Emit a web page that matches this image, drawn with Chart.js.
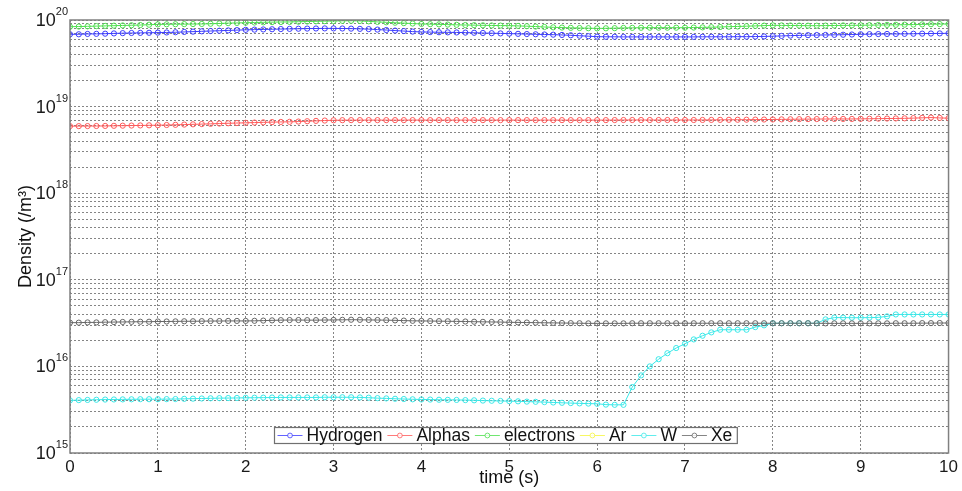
<!DOCTYPE html>
<html><head><meta charset="utf-8">
<script src="https://cdn.jsdelivr.net/npm/chart.js@4.4.1/dist/chart.umd.min.js"></script>
<style>html,body{margin:0;padding:0;background:#fff;}#wrap{width:962px;height:491px;}</style>
</head><body><div id="wrap"><canvas id="c" width="962" height="491"></canvas></div>
<script>
const times = [0,0.1,0.2,0.3,0.4,0.5,0.6,0.7,0.8,0.9,1,1.1,1.2,1.3,1.4,1.5,1.6,1.7,1.8,1.9,2,2.1,2.2,2.3,2.4,2.5,2.6,2.7,2.8,2.9,3,3.1,3.2,3.3,3.4,3.5,3.6,3.7,3.8,3.9,4,4.1,4.2,4.3,4.4,4.5,4.6,4.7,4.8,4.9,5,5.1,5.2,5.3,5.4,5.5,5.6,5.7,5.8,5.9,6,6.1,6.2,6.3,6.4,6.5,6.6,6.7,6.8,6.9,7,7.1,7.2,7.3,7.4,7.5,7.6,7.7,7.8,7.9,8,8.1,8.2,8.3,8.4,8.5,8.6,8.7,8.8,8.9,9,9.1,9.2,9.3,9.4,9.5,9.6,9.7,9.8,9.9,10];
const seriesNames = ['Hydrogen','Alphas','electrons','Ar','W','Xe'];
const hydrogen = [6.84e19,6.84e19,6.90e19,6.92e19,6.95e19,7.00e19,7.05e19,7.08e19,7.10e19,7.12e19,
 7.15e19,7.18e19,7.22e19,7.28e19,7.34e19,7.40e19,7.46e19,7.52e19,7.58e19,7.64e19,
 7.70e19,7.74e19,7.78e19,7.82e19,7.86e19,7.90e19,7.93e19,7.96e19,7.98e19,8.00e19,
 8.00e19,7.98e19,7.95e19,7.90e19,7.85e19,7.75e19,7.66e19,7.55e19,7.45e19,7.35e19,
 7.28e19,7.25e19,7.22e19,7.20e19,7.18e19,7.15e19,7.12e19,7.08e19,7.04e19,7.00e19,
 6.96e19,6.92e19,6.88e19,6.84e19,6.80e19,6.77e19,6.72e19,6.66e19,6.58e19,6.50e19,
 6.42e19,6.40e19,6.40e19,6.38e19,6.38e19,6.38e19,6.38e19,6.38e19,6.38e19,6.38e19,
 6.38e19,6.38e19,6.40e19,6.40e19,6.40e19,6.40e19,6.42e19,6.42e19,6.44e19,6.46e19,
 6.50e19,6.55e19,6.60e19,6.64e19,6.68e19,6.70e19,6.72e19,6.74e19,6.76e19,6.80e19,
 6.84e19,6.86e19,6.88e19,6.90e19,6.90e19,6.92e19,6.94e19,6.96e19,6.98e19,7.00e19,7.02e19];
const alphas = [5.95e18,5.95e18,5.96e18,5.97e18,5.98e18,6.00e18,6.02e18,6.04e18,6.06e18,6.08e18,
 6.10e18,6.13e18,6.16e18,6.20e18,6.24e18,6.28e18,6.32e18,6.37e18,6.42e18,6.46e18,
 6.50e18,6.54e18,6.58e18,6.62e18,6.65e18,6.67e18,6.72e18,6.78e18,6.84e18,6.90e18,
 6.95e18,6.97e18,6.98e18,6.98e18,6.98e18,6.98e18,6.98e18,6.98e18,6.98e18,6.98e18,
 6.98e18,6.98e18,6.98e18,6.98e18,6.98e18,6.98e18,6.98e18,6.98e18,6.98e18,6.98e18,
 6.98e18,6.98e18,6.98e18,6.98e18,6.98e18,6.98e18,6.98e18,6.98e18,6.98e18,6.98e18,
 6.98e18,6.98e18,6.99e18,7.00e18,7.00e18,7.00e18,7.00e18,7.00e18,7.00e18,7.00e18,
 7.00e18,7.00e18,7.01e18,7.02e18,7.03e18,7.04e18,7.05e18,7.06e18,7.08e18,7.09e18,
 7.10e18,7.12e18,7.14e18,7.16e18,7.17e18,7.18e18,7.19e18,7.20e18,7.20e18,7.20e18,
 7.22e18,7.24e18,7.26e18,7.28e18,7.30e18,7.32e18,7.36e18,7.42e18,7.47e18,7.40e18,7.35e18];
const electrons = [8.37e19,8.40e19,8.45e19,8.50e19,8.55e19,8.60e19,8.65e19,8.70e19,8.75e19,8.82e19,
 8.90e19,8.92e19,8.94e19,8.96e19,8.98e19,9.00e19,9.05e19,9.12e19,9.20e19,9.25e19,
 9.30e19,9.35e19,9.40e19,9.45e19,9.48e19,9.50e19,9.55e19,9.60e19,9.65e19,9.70e19,
 9.74e19,9.78e19,9.80e19,9.75e19,9.65e19,9.50e19,9.40e19,9.30e19,9.20e19,9.10e19,
 9.00e19,8.95e19,8.90e19,8.85e19,8.80e19,8.75e19,8.72e19,8.68e19,8.65e19,8.62e19,
 8.60e19,8.55e19,8.48e19,8.40e19,8.30e19,8.23e19,8.18e19,8.12e19,8.08e19,8.04e19,
 8.00e19,8.02e19,8.05e19,8.10e19,8.12e19,8.14e19,8.15e19,8.15e19,8.15e19,8.15e19,
 8.15e19,8.18e19,8.22e19,8.26e19,8.30e19,8.37e19,8.42e19,8.48e19,8.55e19,8.62e19,
 8.68e19,8.66e19,8.64e19,8.62e19,8.60e19,8.60e19,8.62e19,8.64e19,8.66e19,8.68e19,
 8.70e19,8.72e19,8.75e19,8.78e19,8.80e19,8.83e19,8.86e19,8.90e19,8.94e19,8.97e19,9.00e19];
const argon = [];
const tungsten = [4.05e15,4.08e15,4.10e15,4.12e15,4.14e15,4.15e15,4.16e15,4.17e15,4.18e15,4.18e15,
 4.18e15,4.19e15,4.20e15,4.22e15,4.24e15,4.26e15,4.28e15,4.30e15,4.31e15,4.32e15,
 4.34e15,4.35e15,4.36e15,4.37e15,4.38e15,4.38e15,4.38e15,4.38e15,4.38e15,4.40e15,
 4.40e15,4.40e15,4.40e15,4.38e15,4.35e15,4.30e15,4.27e15,4.23e15,4.20e15,4.17e15,
 4.15e15,4.14e15,4.12e15,4.11e15,4.10e15,4.08e15,4.06e15,4.03e15,4.01e15,3.99e15,
 3.97e15,3.95e15,3.92e15,3.90e15,3.87e15,3.83e15,3.80e15,3.77e15,3.74e15,3.72e15,
 3.70e15,3.62e15,3.60e15,3.60e15,5.77e15,7.87e15,1.00e16,1.21e16,1.42e16,1.63e16,
 1.83e16,2.05e16,2.26e16,2.47e16,2.65e16,2.65e16,2.65e16,2.65e16,2.84e16,2.98e16,
 3.15e16,3.15e16,3.15e16,3.15e16,3.15e16,3.15e16,3.49e16,3.66e16,3.66e16,3.65e16,
 3.65e16,3.66e16,3.68e16,3.78e16,3.98e16,3.98e16,3.98e16,3.98e16,3.98e16,3.98e16,3.98e16];
const xenon = [3.20e16,3.20e16,3.22e16,3.22e16,3.24e16,3.25e16,3.26e16,3.27e16,3.28e16,3.28e16,
 3.30e16,3.30e16,3.31e16,3.32e16,3.32e16,3.33e16,3.34e16,3.34e16,3.35e16,3.35e16,
 3.35e16,3.36e16,3.38e16,3.40e16,3.42e16,3.43e16,3.43e16,3.42e16,3.42e16,3.43e16,
 3.44e16,3.45e16,3.46e16,3.45e16,3.44e16,3.43e16,3.42e16,3.40e16,3.38e16,3.36e16,
 3.35e16,3.34e16,3.33e16,3.32e16,3.31e16,3.30e16,3.28e16,3.27e16,3.26e16,3.25e16,
 3.23e16,3.22e16,3.21e16,3.20e16,3.19e16,3.18e16,3.17e16,3.16e16,3.15e16,3.14e16,
 3.14e16,3.14e16,3.14e16,3.14e16,3.15e16,3.15e16,3.15e16,3.15e16,3.15e16,3.15e16,
 3.15e16,3.15e16,3.15e16,3.15e16,3.15e16,3.15e16,3.15e16,3.15e16,3.15e16,3.15e16,
 3.15e16,3.15e16,3.15e16,3.15e16,3.15e16,3.15e16,3.14e16,3.14e16,3.14e16,3.14e16,
 3.14e16,3.14e16,3.14e16,3.14e16,3.15e16,3.15e16,3.15e16,3.16e16,3.16e16,3.17e16,3.17e16];
const xTickLabels = ['0','1','2','3','4','5','6','7','8','9','10'];
const yTickBase = '10';
const yTickExponents = ['15','16','17','18','19','20'];
const xTitle = 'time (s)';
const yTitle = 'Density (/m³)';

const seriesValues = [hydrogen, alphas, electrons, argon, tungsten, xenon];
const seriesColors = ['#3c3cff','#ff5a5a','#4ee04e','#f5f53c','#3ae8e8','#666666'];

const FONT = "'Liberation Sans', Arial, sans-serif";

const datasets = seriesNames.map((name, i) => ({
  label: name,
  data: seriesValues[i].map((v, k) => ({x: times[k], y: v})),
  borderColor: seriesColors[i],
  backgroundColor: 'rgba(0,0,0,0)',
  pointBackgroundColor: 'rgba(255,255,255,0)',
  pointBorderColor: seriesColors[i],
  borderWidth: 1,
  pointRadius: 2.6,
  pointBorderWidth: 1,
  pointStyle: 'circle',
  tension: 0,
  order: seriesNames.length - i
}));

const framePlugin = {
  id: 'frame',
  afterDraw(chart) {
    const {ctx, chartArea: a} = chart;
    ctx.save();
    // y tick labels: "10" with superscript exponent
    const ys = chart.scales.y;
    ctx.fillStyle = '#1a1a1a';
    ctx.textBaseline = 'middle';
    ctx.textAlign = 'right';
    yTickExponents.forEach(ex => {
      const py = ys.getPixelForValue(Math.pow(10, Number(ex)));
      ctx.font = '11px ' + FONT;
      const ew = ctx.measureText(ex).width;
      const right = 68;
      ctx.fillText(ex, right, py - 8);
      ctx.font = '18px ' + FONT;
      ctx.fillText(yTickBase, right - ew, py + 1);
    });
    ctx.strokeStyle = '#808080';
    ctx.lineWidth = 1.5;
    ctx.strokeRect(a.left, a.top, a.right - a.left, a.bottom - a.top);
    // legend box inside the axes
    ctx.font = '17.5px ' + FONT;
    const lineLen = 25, gap1 = 4, gap2 = 5, padL = 3;
    let total = padL;
    const widths = chart.data.datasets.map(d => ctx.measureText(d.label).width);
    widths.forEach(w => { total += lineLen + gap1 + w + gap2; });
    const boxH = 16;
    const cx = (a.left + a.right) / 2 - 3.5;
    const left = Math.round(cx - total / 2) + 0.5;
    const top = a.bottom - 26 + 0.5;
    ctx.fillStyle = '#ffffff';
    ctx.fillRect(left, top, total, boxH);
    ctx.strokeStyle = '#707070';
    ctx.lineWidth = 1.2;
    ctx.strokeRect(left, top, total, boxH);
    let x = left + padL;
    const cy = top + boxH / 2;
    chart.data.datasets.forEach((d, i) => {
      ctx.strokeStyle = d.borderColor;
      ctx.globalAlpha = 0.8;
      ctx.lineWidth = 1;
      ctx.beginPath(); ctx.moveTo(x, cy); ctx.lineTo(x + lineLen, cy); ctx.stroke();
      ctx.fillStyle = '#fff';
      ctx.beginPath(); ctx.arc(x + lineLen / 2, cy, 2.4, 0, Math.PI * 2); ctx.fill(); ctx.stroke();
      ctx.globalAlpha = 1;
      x += lineLen + gap1;
      ctx.fillStyle = '#111';
      ctx.textBaseline = 'middle';
      ctx.textAlign = 'left';
      ctx.fillText(d.label, x, cy + 1);
      x += widths[i] + gap2;
    });
    ctx.restore();
  }
};

new Chart(document.getElementById('c'), {
  type: 'line',
  data: { datasets },
  plugins: [framePlugin],
  options: {
    responsive: false,
    devicePixelRatio: 1,
    animation: false,
    layout: { padding: { top: 20, right: 12, left: 0, bottom: 0 } },
    plugins: { legend: { display: false }, tooltip: { enabled: false } },
    scales: {
      x: {
        type: 'linear', min: 0, max: 10,
        afterFit(s) { s.height = 38; },
        afterBuildTicks(s) { s.ticks = xTickLabels.map(l => ({ value: Number(l) })); },
        ticks: {
          autoSkip: false, maxRotation: 0, padding: 4,
          font: { family: FONT, size: 17 }, color: '#1a1a1a',
          callback: (v) => xTickLabels[xTickLabels.indexOf(String(v))]
        },
        grid: { color: '#858585', lineWidth: 1, drawTicks: false },
        border: { display: false, dash: [2, 2] },
        title: { display: true, text: xTitle, font: { family: FONT, size: 18 }, color: '#111', padding: { top: 0, bottom: 2 } }
      },
      y: {
        type: 'logarithmic', min: 1e15, max: 1e20,
        afterFit(s) { s.width = 70; },
        afterBuildTicks(s) {
          const t = [];
          for (let e = 15; e < 20; e++) for (let m = 1; m < 10; m++) t.push({ value: m * Math.pow(10, e) });
          t.push({ value: 1e20 });
          s.ticks = t;
        },
        ticks: { display: false, autoSkip: false },
        grid: { color: '#858585', lineWidth: 1, drawTicks: false },
        border: { display: false, dash: [2, 2] },
        title: { display: true, text: yTitle, font: { family: FONT, size: 18 }, color: '#111', padding: { top: 15, bottom: 0 } }
      }
    }
  }
});
</script></body></html>
